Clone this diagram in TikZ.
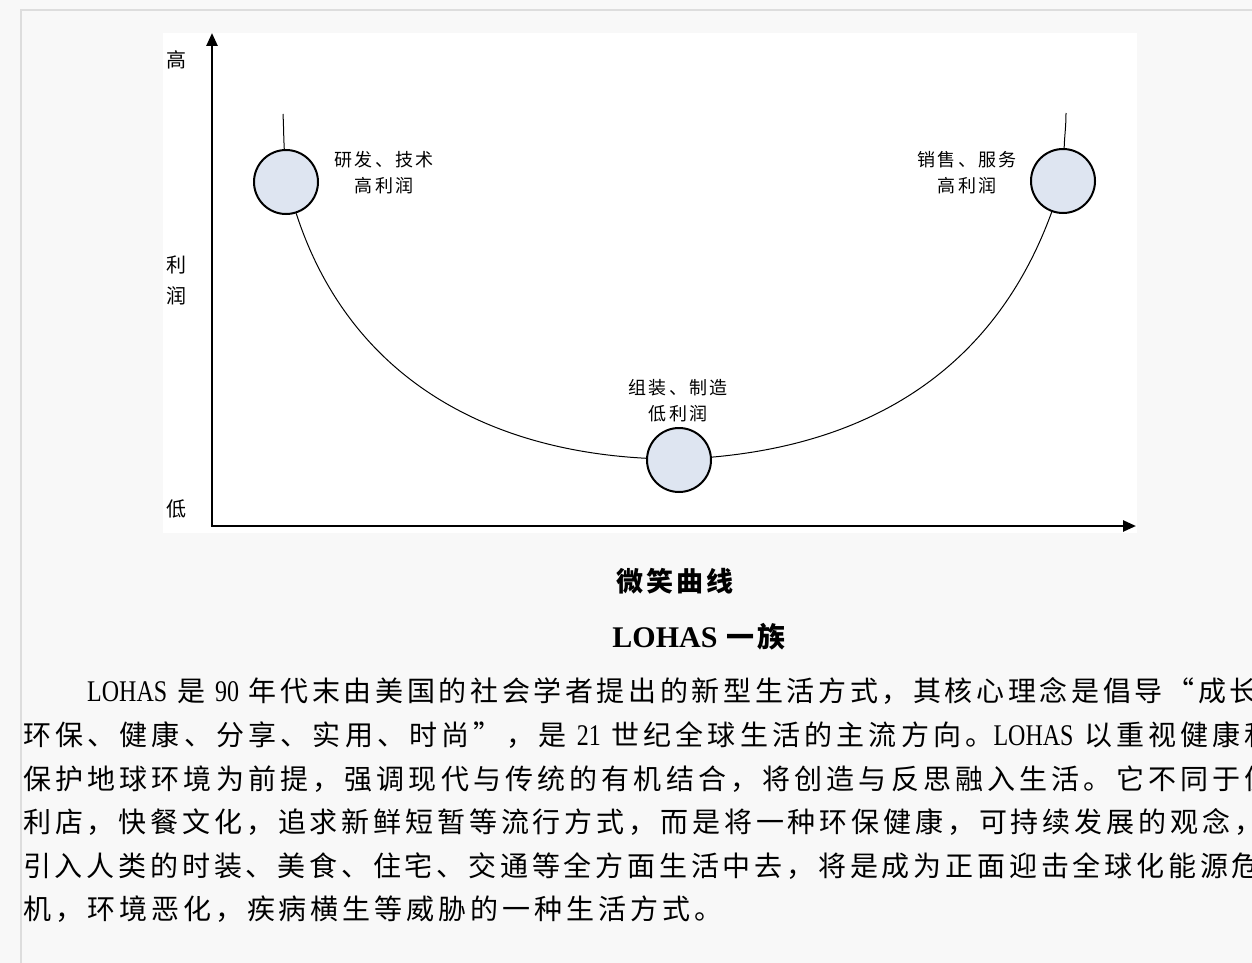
\documentclass[tikz,border=0pt]{standalone}
\usepackage{fontspec}
\setmainfont{Noto Sans CJK SC}
\newfontfamily\bodyfont[LetterSpace=12.5]{Noto Sans CJK SC}
\newfontfamily\titlefont[LetterSpace=10]{Noto Sans CJK SC}
\newfontfamily\latinfont{Liberation Serif}
\newfontfamily\narrowlatin[FakeStretch=0.8]{Liberation Serif}
\newcommand{\latword}[1]{{\narrowlatin\fontsize{30}{30}\selectfont #1}}
\usetikzlibrary{arrows.meta}
\definecolor{stagefill}{HTML}{DEE5F1}
\definecolor{pagebg}{HTML}{F8F8F8}
\definecolor{pageedge}{HTML}{DDDDDD}
\begin{document}
\begin{tikzpicture}
[x=1pt,y=-1pt,
  stage/.style={shape=circle,minimum size=64pt,inner sep=0pt,draw,line width=2pt,fill=stagefill},%
  curve/.style={-,line width=1pt},%
  axis/.style={line width=2.5pt,-{Triangle[length=13pt,width=11pt]}},%
  stagelabel/.style={align=center,inner sep=0pt,font=\fontsize{18}{26}\bodyfont},%
  axislabel/.style={inner sep=0pt,font=\fontsize{20}{20}\bodyfont},%
  bodyline/.style={anchor=west,inner sep=0pt,font=\fontsize{28}{28}\bodyfont}]
\useasboundingbox (0,0) rectangle (1252,963);
\clip (0,0) rectangle (1252,963);
%% page and panel
\fill[pagebg] (0,0) rectangle (1252,963);
\draw[pageedge,line width=2pt] (21,963) -- (21,10) -- (1252,10);
\fill[white] (163,33) rectangle (1137,533);
%% axes
\coordinate (origin) at (212,526);
\coordinate (ytip) at (212,33);
\coordinate (xtip) at (1136,526);
\draw[axis] (origin) -- (ytip);
\draw[axis] ([xshift=-1.25pt]origin) -- (xtip);
\foreach \labelname/\y/\txt in {high/60/高, li/265/利, run/296/润, low/509/低} {
  \node[axislabel] (\labelname) at (176,\y) {\txt};
}
%% stages on the curve
\node[stage] (rnd) at (286,182) {};
\node[stage] (asm) at (679,460) {};
\node[stage] (sale) at (1063,181) {};
\coordinate (rndtop) at (283,114);
\coordinate (saletop) at (1066,113);
\draw[curve] (rndtop) to[out=-87,in=93] (rnd);
\draw[curve] (rnd) to[out=-72,in=177] (asm);
\draw[curve] (asm) to[out=5,in=-110] (sale);
\draw[curve] (sale) to[out=88,in=-90] (saletop);
\node[stagelabel] (rndlabel) at (384,173) {研发、技术\\高利润};
\node[stagelabel] (asmlabel) at (678,401) {组装、制造\\低利润};
\node[stagelabel] (salelabel) at (967,173) {销售、服务\\高利润};
%% caption and text
\node[inner sep=0pt,font=\fontsize{27}{27}\titlefont\bfseries] (title) at (675,581) {微笑曲线};
\node[inner sep=0pt,font=\fontsize{28}{28}\titlefont\bfseries] (subtitle) at (699,637)
  {{\latinfont\fontsize{30}{30}\selectfont LOHAS} 一族};
\foreach \linename/\x/\y/\ls/\txt in {
  line1/87/691/13/{\latword{LOHAS} 是 \latword{90} 年代末由美国的社会学者提出的新型生活方式，其核心理念是倡导“成长},
  line2/23/735/15/{环保、健康、分享、实用、时尚”，是 \latword{21} 世纪全球生活的主流方向。\latword{LOHAS} 以重视健康和},
  line3/23/779/14.8/{保护地球环境为前提，强调现代与传统的有机结合，将创造与反思融入生活。它不同于便},
  line4/23/822/13.8/{利店，快餐文化，追求新鲜短暂等流行方式，而是将一种环保健康，可持续发展的观念，},
  line5/23/866/13.6/{引入人类的时装、美食、住宅、交通等全方面生活中去，将是成为正面迎击全球化能源危},
  line6/23/909/14.2/{机，环境恶化，疾病横生等威胁的一种生活方式。}} {
  \node[bodyline] (\linename) at (\x,\y) {\addfontfeature{LetterSpace=\ls}\txt};
}
\end{tikzpicture}
\end{document}
